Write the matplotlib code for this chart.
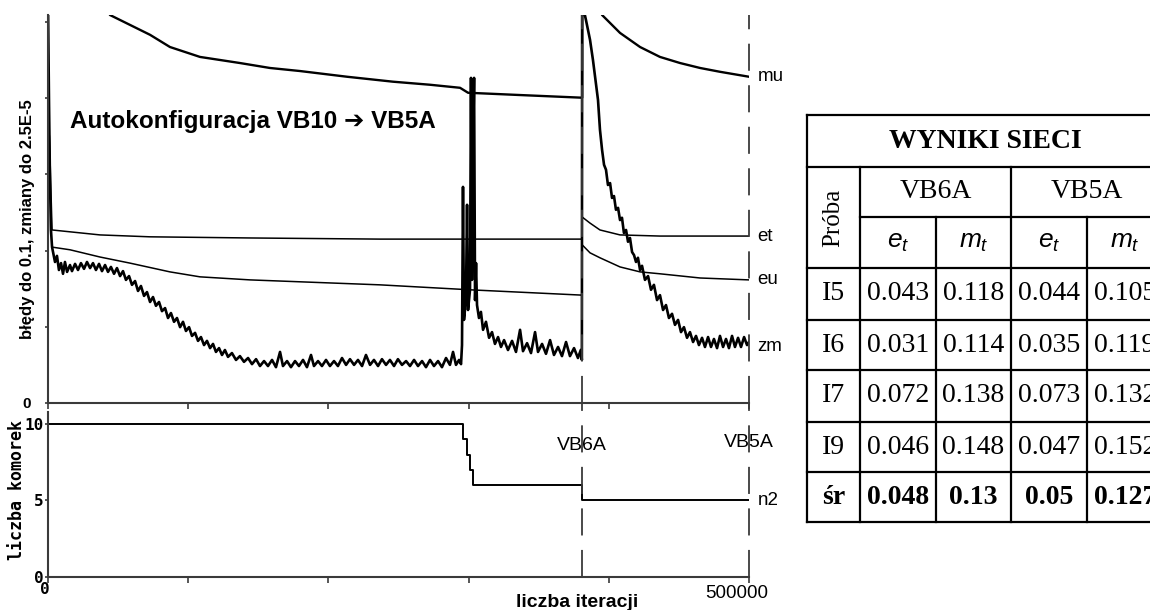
import numpy as np
import matplotlib
matplotlib.use("Agg")
import matplotlib.pyplot as plt

plt.rcParams['font.family'] = ['Liberation Sans', 'DejaVu Sans']
plt.rcParams['mathtext.fontset'] = 'custom'
plt.rcParams['mathtext.it'] = 'Liberation Sans:italic'
plt.rcParams['mathtext.rm'] = 'Liberation Sans'

# x w tysiacach iteracji, bledy w tysiecznych (pelna skala osi = 100 -> 0.1)
VB6A_X = 381.0
X_MAX = 500.0

mu_x = [30, 44.2, 58.5, 72.8, 87.0, 108.4, 136.9, 158.3, 179.7, 213.3, 246.1, 272.5,
        293.9, 299.6, 336.7, 381.0, 381.0, 395.2, 408.0, 422.3, 436.5, 450.8, 465.1,
        479.3, 500.0]
mu_y = [115, 101.8, 99.2, 96.6, 93.4, 90.8, 89.2, 87.9, 87.1, 85.6, 84.3, 83.5,
        82.7, 81.4, 80.8, 80.1, 120, 101.8, 97.1, 93.4, 90.8, 89.2, 87.9,
        86.9, 85.6]

et_x = [1.0, 2.9, 37.1, 72.8, 144.1, 236.8, 381.0, 381.0, 386.6, 393.7, 408.0, 436.5, 500.0]
et_y = [70.0, 45.4, 44.1, 43.6, 43.3, 43.0, 43.0, 48.8, 47.2, 45.4, 44.1, 43.8, 43.8]

eu_x = [2.9, 15.7, 37.1, 58.5, 87.0, 108.4, 144.1, 179.7, 236.8, 301.0, 381.0,
        381.0, 386.6, 393.7, 408.0, 422.3, 436.5, 465.1, 500.0]
eu_y = [40.9, 40.2, 38.3, 36.7, 34.4, 33.1, 32.3, 31.8, 31.0, 29.7, 28.3,
        41.5, 39.4, 38.1, 35.7, 34.4, 33.9, 32.8, 32.3]

# zmiany (zm) - odczytane punkt po punkcie z wykresu
zm_pts = [
    (0, 105), (0.7, 79.5), (1.4, 58.5), (2.1, 45.4), (2.9, 40.9), (5.0, 37.0), (6.4, 38.6),
    (7.8, 34.9), (9.3, 36.7), (10.7, 33.9), (12.1, 37.0), (13.6, 34.4), (15.7, 36.2),
    (17.1, 34.6), (19.3, 36.5), (21.4, 34.9), (23.5, 36.7), (25.7, 35.2), (27.8, 37.0),
    (30.0, 35.4), (32.1, 36.7), (34.2, 34.9), (36.4, 36.5), (38.5, 34.6), (40.7, 36.2),
    (42.8, 34.4), (44.9, 35.7), (47.1, 33.9), (49.2, 35.4), (51.4, 33.3), (53.5, 34.6),
    (55.6, 32.3), (57.8, 33.3), (59.9, 31.0), (62.1, 32.0), (64.2, 29.4), (66.3, 30.7),
    (68.5, 28.1), (70.6, 29.1), (72.8, 26.5), (74.9, 27.8), (77.0, 25.5), (79.2, 26.5),
    (81.3, 24.1), (83.5, 24.9), (85.6, 22.3), (87.7, 23.6), (89.9, 21.3), (92.0, 22.3),
    (94.2, 19.9), (96.3, 21.3), (98.4, 18.9), (100.6, 19.9), (102.7, 17.6), (104.9, 18.4),
    (107.0, 16.3), (109.1, 17.3), (111.3, 15.2), (113.4, 16.3), (115.6, 14.4), (117.7, 15.5),
    (119.8, 13.4), (122.0, 14.4), (124.1, 12.6), (126.2, 13.9), (128.4, 12.1), (131.2, 13.1),
    (134.1, 11.3), (136.9, 12.3), (139.8, 10.8), (142.7, 11.8), (145.5, 10.2), (148.4, 11.5),
    (151.2, 9.7), (154.1, 11.0), (156.9, 9.7), (159.8, 11.3), (162.6, 9.4), (165.5, 13.4),
    (167.6, 9.7), (170.5, 11.0), (173.3, 9.4), (176.2, 11.0), (179.0, 9.7), (181.9, 11.3),
    (184.7, 9.4), (187.6, 12.6), (189.7, 9.7), (192.6, 11.0), (195.4, 9.7), (198.3, 11.3),
    (201.1, 9.7), (204.0, 11.0), (206.8, 9.7), (209.7, 11.8), (212.6, 10.0), (215.4, 11.5),
    (218.3, 10.0), (221.1, 11.3), (224.0, 9.7), (226.8, 12.6), (229.7, 10.0), (232.5, 11.3),
    (235.4, 9.7), (238.2, 11.5), (241.1, 10.0), (243.9, 11.3), (246.8, 9.7), (249.6, 11.5),
    (252.5, 10.0), (255.4, 11.0), (258.2, 9.7), (261.1, 11.3), (263.9, 9.7), (266.8, 11.0),
    (269.6, 9.4), (272.5, 11.3), (275.3, 9.7), (278.2, 11.0), (281.0, 9.4), (283.9, 11.8),
    (286.7, 10.0), (288.9, 13.4), (291.0, 10.0), (293.2, 11.3), (294.6, 10.2), (295.3, 15.2),
    (296.0, 56.7), (296.7, 21.8), (298.1, 27.0), (298.9, 52.0), (299.6, 24.4), (301.0, 29.7),
    (301.7, 85.3), (302.4, 32.3), (303.1, 63.8), (303.9, 85.3), (304.6, 27.0), (305.3, 36.7),
    (306.0, 25.7), (307.4, 22.3), (308.8, 23.9), (310.3, 19.2), (312.4, 21.3), (314.6, 17.1),
    (316.7, 18.6), (318.8, 15.5), (321.0, 17.3), (323.1, 14.7), (325.3, 16.5), (328.1, 13.9),
    (331.0, 16.3), (333.8, 13.4), (336.7, 19.2), (338.8, 13.6), (341.7, 15.7), (344.5, 13.1),
    (347.4, 18.6), (349.5, 13.4), (352.4, 15.5), (355.2, 12.9), (358.1, 16.5), (360.9, 12.6),
    (363.8, 14.7), (366.6, 12.3), (369.5, 16.0), (372.3, 12.3), (375.2, 14.4), (378.0, 11.8),
    (380.0, 13.9), (380.8, 11.3), (381.0, 105),
    (383.7, 100.5), (386.6, 95.3), (388.7, 90.0), (390.9, 83.5), (392.3, 79.5), (393.7, 71.7),
    (395.2, 66.4), (396.6, 62.5), (398.0, 61.2), (399.4, 57.2), (400.9, 57.7), (402.3, 53.8),
    (403.7, 54.3), (405.1, 50.7), (406.6, 51.2), (408.0, 48.0), (409.4, 48.6), (410.8, 44.6),
    (412.3, 45.4), (413.7, 42.3), (415.1, 43.3), (416.6, 39.6), (418.0, 38.8), (419.4, 37.0),
    (420.8, 38.1), (422.3, 34.9), (423.7, 36.0), (425.8, 32.3), (428.0, 33.3), (430.1, 29.7),
    (432.2, 31.0), (434.4, 27.0), (436.5, 28.3), (438.7, 24.4), (440.8, 25.7), (442.9, 22.3),
    (445.1, 23.4), (447.2, 20.5), (449.4, 21.8), (451.5, 18.6), (453.6, 19.9), (455.8, 17.1),
    (457.9, 18.6), (460.1, 16.0), (462.2, 17.6), (464.3, 15.2), (466.5, 17.1), (468.6, 14.7),
    (470.8, 17.3), (472.9, 14.7), (475.0, 16.8), (477.2, 14.4), (479.3, 17.6), (481.5, 14.7),
    (483.6, 16.8), (485.7, 14.4), (487.9, 17.6), (490.0, 14.7), (492.2, 17.1), (494.3, 14.7),
    (496.5, 17.3), (498.6, 15.2), (500.0, 16.0),
]

# liczba komorek n2 (schodki)
n2_x = [0, 296.0, 298.9, 301.0, 303.1, 381.0, 500.0]
n2_y = [10, 9, 8, 7, 6, 5, 5]

# tabela wynikow
probki = ['I5', 'I6', 'I7', 'I9', 'śr']
vb6a_et = [0.043, 0.031, 0.072, 0.046, 0.048]
vb6a_mt = [0.118, 0.114, 0.138, 0.148, 0.13]
vb5a_et = [0.044, 0.035, 0.073, 0.047, 0.05]
vb5a_mt = [0.105, 0.119, 0.132, 0.152, 0.127]

W, H = 1150, 610
fig = plt.figure(figsize=(W / 100, H / 100), dpi=100)
ax0 = fig.add_axes([0, 0, 1, 1])
ax0.set_xlim(0, W)
ax0.set_ylim(H, 0)
ax0.axis('off')
ax1 = fig.add_axes([48 / W, (H - 403) / H, 701 / W, 388 / H])
ax2 = fig.add_axes([48 / W, (H - 577) / H, 701 / W, 165 / H])

K = 1000
spine_c = '#3a3a3a'
for ax in (ax1, ax2):
    ax.patch.set_alpha(0)
    for s in ('top', 'right'):
        ax.spines[s].set_visible(False)
    for s in ('left', 'bottom'):
        ax.spines[s].set_color(spine_c)
        ax.spines[s].set_linewidth(1.5)
    ax.set_xlim(0, X_MAX * K)
    ax.set_xticks(np.arange(0, 500001, 100000))
    ax.set_xticklabels([])
    ax.tick_params(axis='x', direction='out', length=4, width=1.2, color=spine_c)
    ax.tick_params(axis='y', direction='out', length=2, width=1.2, color=spine_c)

# gorny panel
zm_x = np.array([p[0] for p in zm_pts]) * K
zm_y = [p[1] for p in zm_pts]
ax1.plot(np.array(mu_x) * K, mu_y, color='black', lw=1.7)
ax1.plot(np.array(et_x) * K, et_y, color='black', lw=1.1)
ax1.plot(np.array(eu_x) * K, eu_y, color='black', lw=1.1)
ax1.plot(zm_x, zm_y, color='black', lw=1.9)
ax1.set_ylim(0, 101.8)
ax1.set_yticks(np.arange(0, 101, 20))
ax1.set_yticklabels(['0', '', '', '', '', ''], fontweight='bold', fontsize=11)
ax1.tick_params(axis='y', pad=10)

for name, y in [('mu', mu_y[-1]), ('et', et_y[-1]), ('eu', eu_y[-1]), ('zm', 14.7)]:
    ax1.text(506 * K, y, name, fontsize=13.5, va='center', ha='left', clip_on=False)

# dolny panel
ax2.plot(np.array(n2_x) * K, n2_y, color='black', lw=1.4, drawstyle='steps-post')
ax2.set_ylim(0, 10.78)
ax2.set_yticks([0, 5, 10])
ax2.set_yticklabels(['0', '5', '10'], family='DejaVu Sans Mono', fontweight='bold', fontsize=11.5)
ax2.tick_params(axis='y', pad=1)
ax2.text(506 * K, n2_y[-1], 'n2', fontsize=13.5, va='center', ha='left', clip_on=False)
ax2.text(VB6A_X * K, 8.6, 'VB6A', fontsize=14, ha='center', va='center')
ax2.text(X_MAX * K, 8.8, 'VB5A', fontsize=14, ha='center', va='center')

# pionowe linie przerywane
for ax, ymax in ((ax1, 1.0), (ax2, 1.06)):
    for xv in (VB6A_X, X_MAX):
        ax.axvline(xv * K, ymin=0, ymax=ymax, color=spine_c, lw=1.3,
                   dashes=(15, 8), clip_on=False)

# opisy osi
fig.text(28 / W, 1 - 219 / H, 'błędy do 0.1, zmiany do 2.5E-5', rotation=90,
         ha='center', va='center', fontsize=12, fontweight='bold')
fig.text(17 / W, 1 - 490 / H, 'liczba komorek', rotation=90, ha='center', va='center',
         fontsize=12, fontweight='bold', family='DejaVu Sans Mono')
ax0.text(45, 590, '0', ha='center', va='center', fontsize=11.5, fontweight='bold',
         family='DejaVu Sans Mono')
ax0.text(737, 594, '500000', ha='center', va='center', fontsize=13.5)
ax0.text(577, 594, 'liczba iteracji', ha='center', va='top', fontsize=14, fontweight='bold')
ax0.text(70, 128, 'Autokonfiguracja VB10 ➔ VB5A', ha='left', va='baseline',
         fontsize=17.5, fontweight='bold', family=['Liberation Sans', 'DejaVu Sans'])

# tabela
cols = [807, 860, 936, 1011, 1087, 1163]
rows = [115, 167, 217, 268, 320, 370, 422, 472, 522]
lw_t = 1.6
hlines = [(rows[0], cols[0], cols[-1]), (rows[1], cols[0], cols[-1]), (rows[2], cols[1], cols[-1])]
hlines += [(r, cols[0], cols[-1]) for r in rows[3:]]
vlines = [(cols[0], rows[0], rows[-1]), (cols[1], rows[1], rows[-1]), (cols[2], rows[2], rows[-1]),
          (cols[3], rows[1], rows[-1]), (cols[4], rows[2], rows[-1]), (cols[5], rows[0], rows[-1])]
for y, x0, x1 in hlines:
    ax0.plot([x0, x1], [y, y], color='black', lw=lw_t, solid_capstyle='projecting')
for x, y0, y1 in vlines:
    ax0.plot([x, x], [y0, y1], color='black', lw=lw_t, solid_capstyle='projecting')

serif = 'Liberation Serif'
fs = 20
ax0.text((cols[0] + cols[-1]) / 2, (rows[0] + rows[1]) / 2, 'WYNIKI SIECI', family=serif,
         fontweight='bold', fontsize=fs, ha='center', va='center')
ax0.text((cols[0] + cols[1]) / 2, (rows[1] + rows[3]) / 2, 'Próba', family=serif,
         fontsize=18, rotation=90, ha='center', va='center')
ax0.text((cols[1] + cols[3]) / 2, (rows[1] + rows[2]) / 2, 'VB6A', family=serif,
         fontsize=fs, ha='center', va='center')
ax0.text((cols[3] + cols[5]) / 2, (rows[1] + rows[2]) / 2, 'VB5A', family=serif,
         fontsize=fs, ha='center', va='center')
for i, lab in enumerate([r'$e_t$', r'$m_t$', r'$e_t$', r'$m_t$']):
    ax0.text((cols[i + 1] + cols[i + 2]) / 2, (rows[2] + rows[3]) / 2, lab,
             fontsize=19, ha='center', va='center')

for r, nazwa in enumerate(probki):
    yc = (rows[3 + r] + rows[4 + r]) / 2
    weight = 'bold' if nazwa == 'śr' else 'normal'
    vals = [vb6a_et[r], vb6a_mt[r], vb5a_et[r], vb5a_mt[r]]
    ax0.text((cols[0] + cols[1]) / 2, yc, nazwa, family=serif, fontsize=fs,
             fontweight=weight, ha='center', va='center')
    for c, v in enumerate(vals):
        ax0.text((cols[c + 1] + cols[c + 2]) / 2, yc, str(v), family=serif, fontsize=fs,
                 fontweight=weight, ha='center', va='center')

fig.savefig('out.png', dpi=100)
